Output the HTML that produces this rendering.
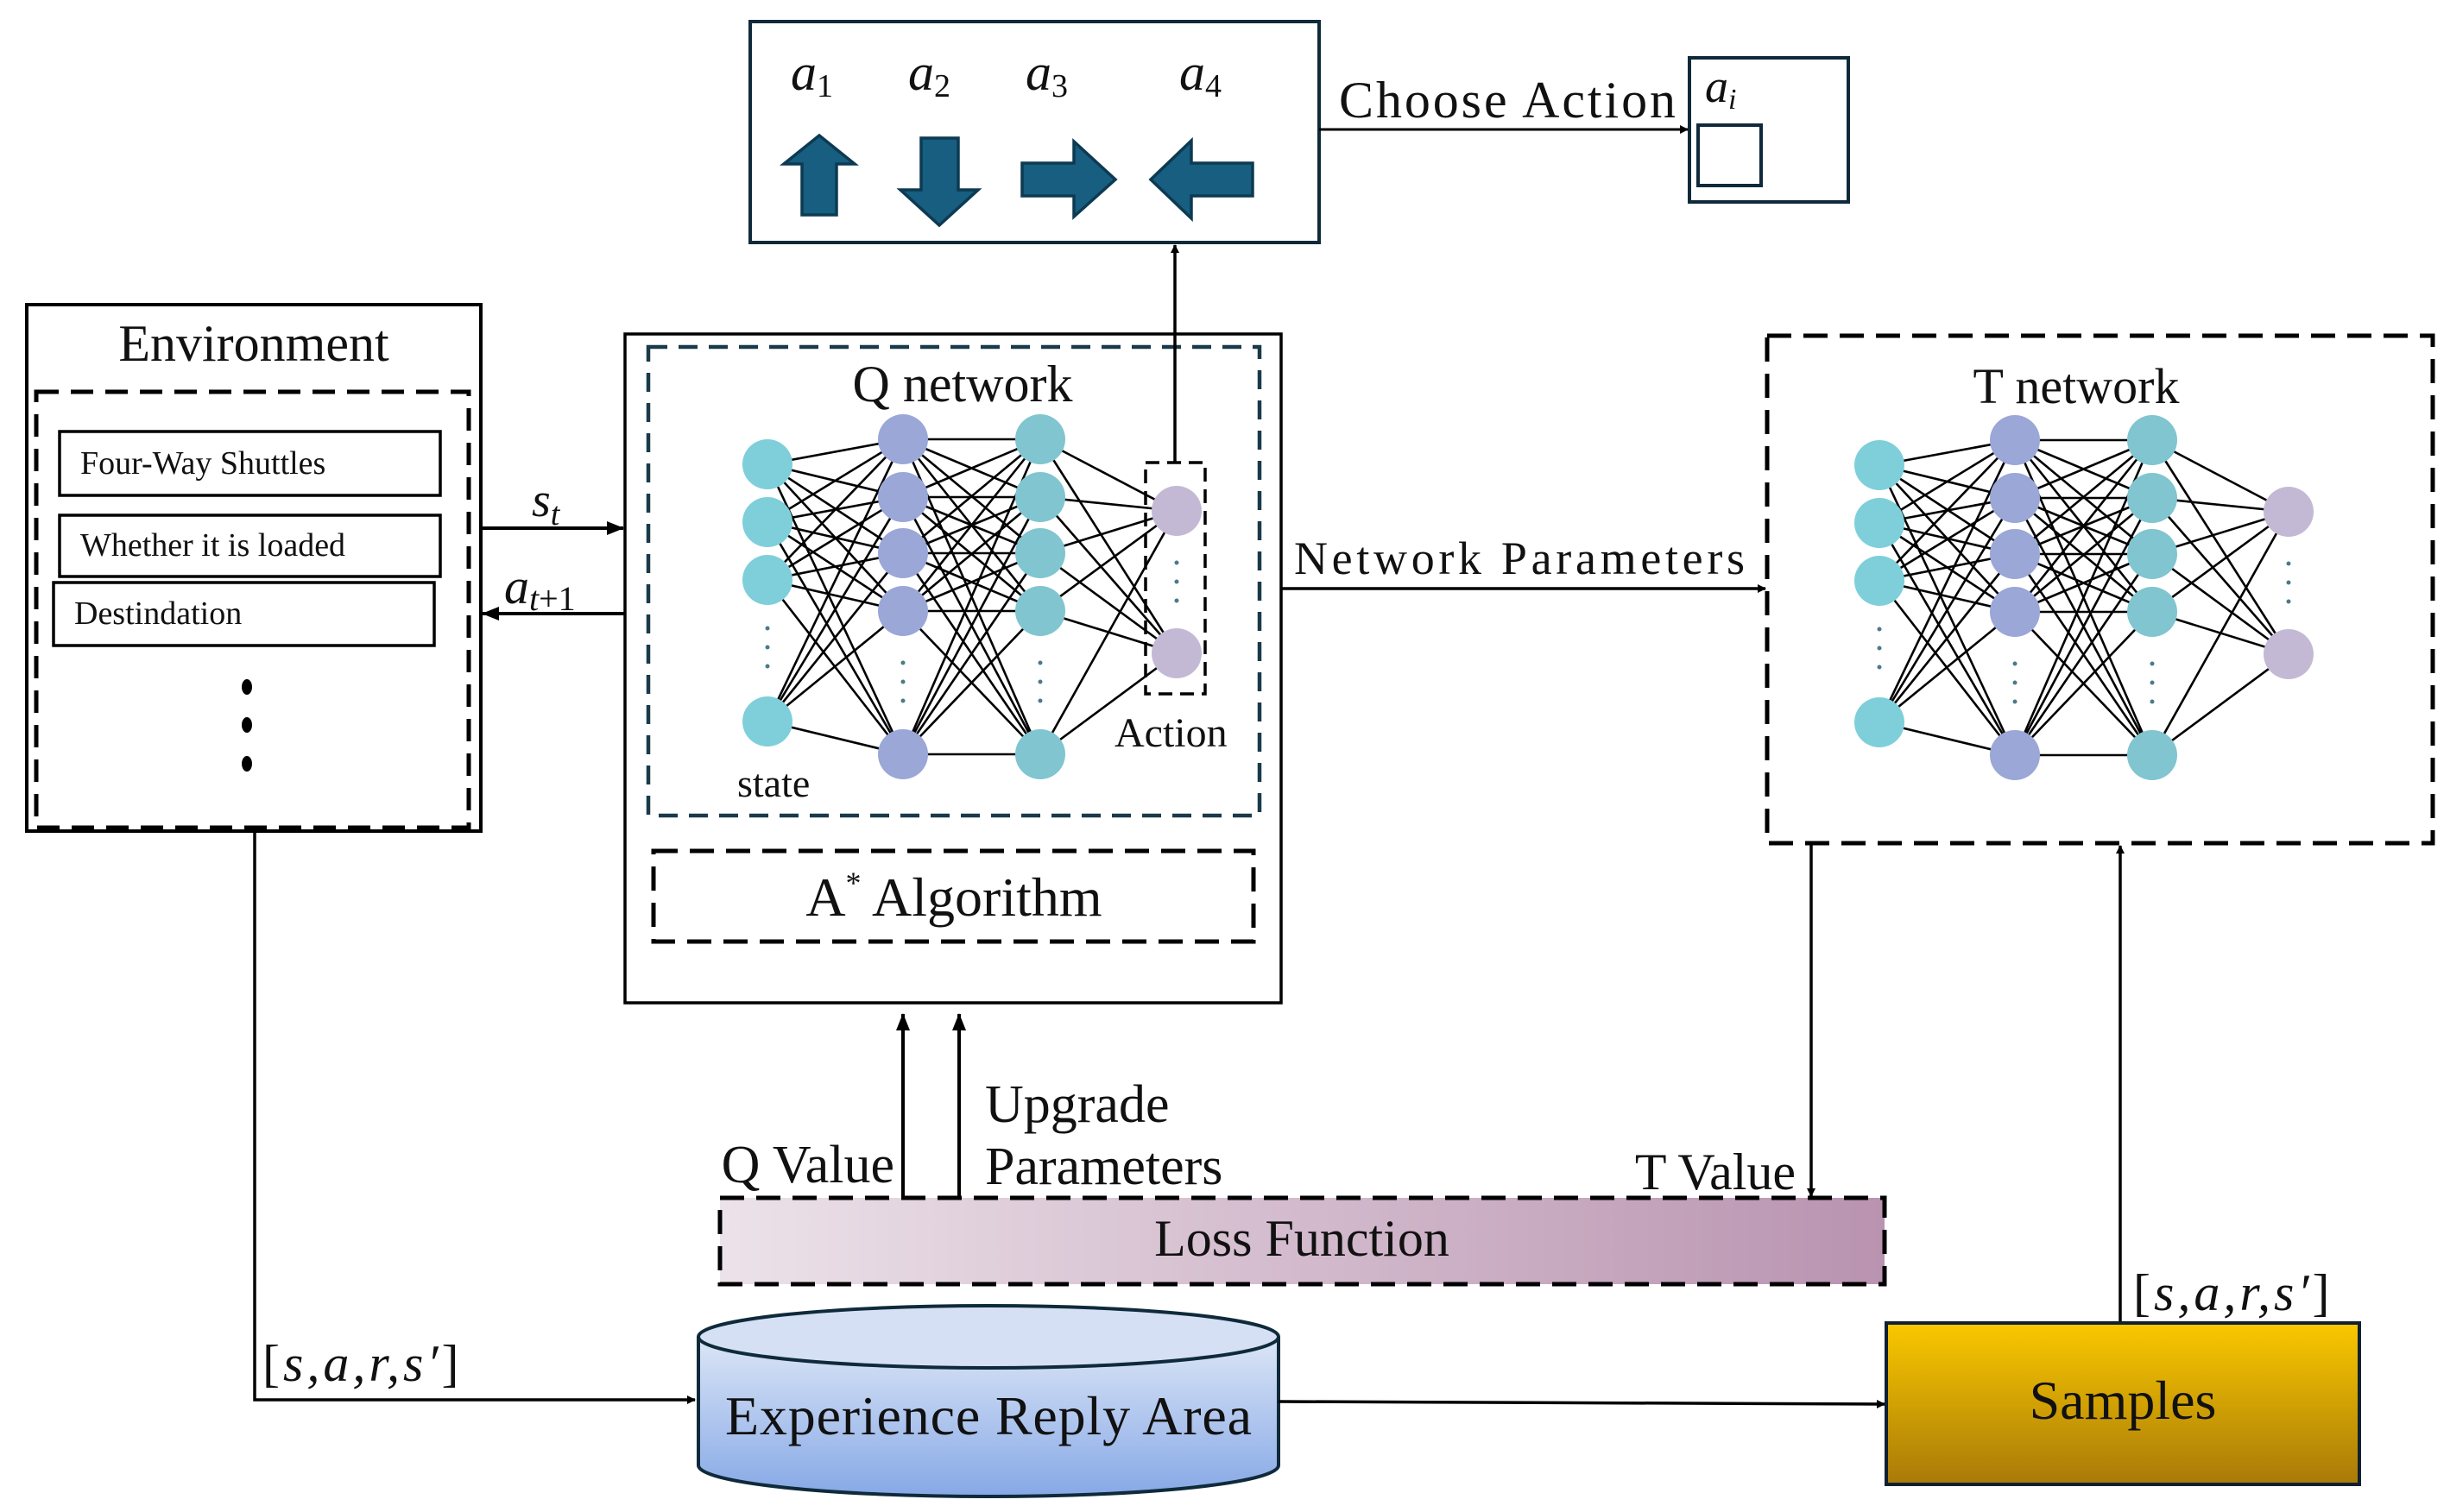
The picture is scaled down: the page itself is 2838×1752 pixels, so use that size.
<!DOCTYPE html>
<html><head><meta charset="utf-8"><style>
html,body{margin:0;padding:0;background:#fff}
svg{display:block}
text{font-family:"Liberation Serif",serif;fill:#111}
.m{font-style:italic}
</style></head><body>
<svg width="2838" height="1752" viewBox="0 0 2838 1752" xmlns="http://www.w3.org/2000/svg">
<defs>
<marker id="ar" markerWidth="10" markerHeight="10" refX="9" refY="5" orient="auto" markerUnits="userSpaceOnUse">
<path d="M0,0 L10,5 L0,10 z" fill="#000"/></marker>
<marker id="ab" markerWidth="20" markerHeight="16" refX="19" refY="8" orient="auto" markerUnits="userSpaceOnUse">
<path d="M0,0 L20,8 L0,16 z" fill="#000"/></marker>
<linearGradient id="loss" x1="0" x2="1" y1="0" y2="0"><stop offset="0" stop-color="#ece2e9"/><stop offset="1" stop-color="#b993b0"/></linearGradient>
<linearGradient id="cyl" x1="0" x2="0" y1="0" y2="1"><stop offset="0" stop-color="#dce6f6"/><stop offset="1" stop-color="#86a8e6"/></linearGradient>
<linearGradient id="smp" x1="0" x2="0" y1="0" y2="1"><stop offset="0" stop-color="#fac800"/><stop offset="1" stop-color="#a87a08"/></linearGradient>
<g id="net">
<path fill="none" stroke="#000" stroke-width="2.6" d="
M889 538L1046 509M889 538L1046 576M889 538L1046 641M889 538L1046 708M889 538L1046 874
M889 605L1046 509M889 605L1046 576M889 605L1046 641M889 605L1046 708M889 605L1046 874
M889 672L1046 509M889 672L1046 576M889 672L1046 641M889 672L1046 708M889 672L1046 874
M889 836L1046 509M889 836L1046 576M889 836L1046 641M889 836L1046 708M889 836L1046 874
M1046 509L1205 509M1046 509L1205 576M1046 509L1205 641M1046 509L1205 708M1046 509L1205 874
M1046 576L1205 509M1046 576L1205 576M1046 576L1205 641M1046 576L1205 708M1046 576L1205 874
M1046 641L1205 509M1046 641L1205 576M1046 641L1205 641M1046 641L1205 708M1046 641L1205 874
M1046 708L1205 509M1046 708L1205 576M1046 708L1205 641M1046 708L1205 708M1046 708L1205 874
M1046 874L1205 509M1046 874L1205 576M1046 874L1205 641M1046 874L1205 708M1046 874L1205 874
M1205 509L1363 592M1205 509L1363 757M1205 576L1363 592M1205 576L1363 757M1205 641L1363 592M1205 641L1363 757
M1205 708L1363 592M1205 708L1363 757M1205 874L1363 592M1205 874L1363 757"/>
<g fill="#7ecfda"><circle cx="889" cy="538" r="29"/><circle cx="889" cy="605" r="29"/><circle cx="889" cy="672" r="29"/><circle cx="889" cy="836" r="29"/></g>
<g fill="#9aa7d7"><circle cx="1046" cy="509" r="29"/><circle cx="1046" cy="576" r="29"/><circle cx="1046" cy="641" r="29"/><circle cx="1046" cy="708" r="29"/><circle cx="1046" cy="874" r="29"/></g>
<g fill="#80c5d0"><circle cx="1205" cy="509" r="29"/><circle cx="1205" cy="576" r="29"/><circle cx="1205" cy="641" r="29"/><circle cx="1205" cy="708" r="29"/><circle cx="1205" cy="874" r="29"/></g>
<g fill="#c4b9d5"><circle cx="1363" cy="592" r="29"/><circle cx="1363" cy="757" r="29"/></g>
<g fill="#4a7a8a"><circle cx="889" cy="728" r="2.5"/><circle cx="889" cy="750" r="2.5"/><circle cx="889" cy="772" r="2.5"/>
<circle cx="1046" cy="768" r="2.5"/><circle cx="1046" cy="790" r="2.5"/><circle cx="1046" cy="812" r="2.5"/>
<circle cx="1205" cy="768" r="2.5"/><circle cx="1205" cy="790" r="2.5"/><circle cx="1205" cy="812" r="2.5"/>
<circle cx="1363" cy="652" r="2.5"/><circle cx="1363" cy="674" r="2.5"/><circle cx="1363" cy="696" r="2.5"/></g>
</g>
</defs>

<!-- Action box -->
<rect x="869" y="25" width="659" height="256" fill="#fff" stroke="#0f2a3a" stroke-width="4"/>
<text x="916" y="104" font-size="60" class="m">a<tspan font-size="38" dy="8" font-style="normal">1</tspan></text>
<text x="1052" y="104" font-size="60" class="m">a<tspan font-size="38" dy="8" font-style="normal">2</tspan></text>
<text x="1188" y="104" font-size="60" class="m">a<tspan font-size="38" dy="8" font-style="normal">3</tspan></text>
<text x="1366" y="104" font-size="60" class="m">a<tspan font-size="38" dy="8" font-style="normal">4</tspan></text>
<g fill="#175e80" stroke="#0d3a52" stroke-width="3.5">
<path d="M908 190 L949 157 L990 190 L969 190 L969 249 L929 249 L929 190 Z"/>
<path d="M1067 160 L1110 160 L1110 220 L1133 220 L1088 261 L1043 220 L1067 220 Z"/>
<path d="M1184 189 L1244 189 L1244 164 L1292 208 L1244 251 L1244 227 L1184 227 Z"/>
<path d="M1451 189 L1380 189 L1380 163 L1333 208 L1380 253 L1380 227 L1451 227 Z"/>
</g>
<!-- ai box -->
<rect x="1957" y="67" width="184" height="167" fill="#fff" stroke="#0f2a3a" stroke-width="4"/>
<rect x="1967" y="145" width="73" height="70" fill="#fff" stroke="#0f2a3a" stroke-width="4"/>
<text x="1975" y="118" font-size="54" class="m">a<tspan font-size="34" dy="8">i</tspan></text>
<line x1="1528" y1="150" x2="1955" y2="150" stroke="#000" stroke-width="3" marker-end="url(#ar)"/>
<text x="1551" y="136" font-size="60" textLength="390">Choose Action</text>

<!-- Environment -->
<rect x="31" y="353" width="526" height="610" fill="#fff" stroke="#000" stroke-width="4"/>
<rect x="42" y="454" width="501" height="505" fill="none" stroke="#000" stroke-width="5" stroke-dasharray="26 14"/>
<text x="294" y="418" font-size="60" text-anchor="middle">Environment</text>
<rect x="69" y="500" width="441" height="74" fill="#fff" stroke="#000" stroke-width="3.5"/>
<rect x="69" y="597" width="441" height="71" fill="#fff" stroke="#000" stroke-width="3.5"/>
<rect x="62" y="675" width="441" height="73" fill="#fff" stroke="#000" stroke-width="3.5"/>
<text x="93" y="549" font-size="38">Four-Way Shuttles</text>
<text x="93" y="644" font-size="38">Whether it is loaded</text>
<text x="86" y="723" font-size="38">Destindation</text>
<g fill="#000"><ellipse cx="286" cy="796" rx="6" ry="9"/><ellipse cx="286" cy="840" rx="6" ry="9"/><ellipse cx="286" cy="885" rx="6" ry="9"/></g>

<!-- st / at+1 -->
<line x1="557" y1="612" x2="722" y2="612" stroke="#000" stroke-width="4" marker-end="url(#ab)"/>
<line x1="724" y1="711" x2="559" y2="711" stroke="#000" stroke-width="4" marker-end="url(#ab)"/>
<text x="616" y="598" font-size="56" class="m">s<tspan font-size="38" dy="10">t</tspan></text>
<text x="584" y="699" font-size="58" class="m">a<tspan font-size="40" dy="8">t<tspan font-style="normal">+1</tspan></tspan></text>

<!-- Q network -->
<rect x="724" y="387" width="760" height="775" fill="#fff" stroke="#000" stroke-width="3.5"/>
<rect x="751" y="402" width="708" height="543" fill="none" stroke="#1a3a4a" stroke-width="4.5" stroke-dasharray="22 13"/>
<rect x="757" y="986" width="695" height="105" fill="none" stroke="#000" stroke-width="5" stroke-dasharray="28 14"/>
<text x="1115" y="465" font-size="60" text-anchor="middle">Q network</text>
<use href="#net"/>
<rect x="1327" y="536" width="69" height="268" fill="none" stroke="#000" stroke-width="3.5" stroke-dasharray="16 9"/>
<line x1="1361" y1="536" x2="1361" y2="284" stroke="#000" stroke-width="3.5" marker-end="url(#ar)"/>
<text x="854" y="923" font-size="46">state</text>
<text x="1291" y="865" font-size="48">Action</text>
<text x="1105" y="1061" font-size="64" text-anchor="middle">A<tspan font-size="36" dy="-26">*</tspan><tspan dy="26"> Algorithm</tspan></text>

<!-- Network parameters -->
<line x1="1484" y1="682" x2="2045" y2="682" stroke="#000" stroke-width="3.5" marker-end="url(#ar)"/>
<text x="1499" y="665" font-size="54" textLength="522">Network  Parameters</text>

<!-- T network -->
<rect x="2047" y="389" width="771" height="588" fill="none" stroke="#000" stroke-width="5" stroke-dasharray="28 14"/>
<text x="2405" y="467" font-size="58" text-anchor="middle">T network</text>
<use href="#net" transform="translate(1288,1)"/>

<!-- T value -->
<line x1="2098" y1="977" x2="2098" y2="1386" stroke="#000" stroke-width="3.5" marker-end="url(#ar)"/>
<text x="2080" y="1378" font-size="60" text-anchor="end">T Value</text>
<line x1="2456" y1="1533" x2="2456" y2="980" stroke="#000" stroke-width="3.5" marker-end="url(#ar)"/>

<!-- Q value / upgrade -->
<line x1="1046" y1="1388" x2="1046" y2="1175" stroke="#000" stroke-width="4" marker-end="url(#ab)"/>
<line x1="1111" y1="1388" x2="1111" y2="1175" stroke="#000" stroke-width="4" marker-end="url(#ab)"/>
<text x="1036" y="1370" font-size="62" text-anchor="end">Q Value</text>
<text x="1141" y="1300" font-size="62">Upgrade</text>
<text x="1141" y="1372" font-size="62">Parameters</text>

<!-- Loss function -->
<rect x="834" y="1388" width="1349" height="100" fill="url(#loss)" stroke="#000" stroke-width="5" stroke-dasharray="28 14"/>
<text x="1508" y="1455" font-size="60" text-anchor="middle">Loss Function</text>

<!-- left flow -->
<polyline points="295,963 295,1622 805,1622" fill="none" stroke="#000" stroke-width="3.5" marker-end="url(#ar)"/>
<text x="304" y="1600" font-size="60" class="m" letter-spacing="4"><tspan font-style="normal">[</tspan>s,a,r,s′<tspan font-style="normal">]</tspan></text>

<!-- cylinder -->
<path d="M809 1549 L809 1698 A336 36 0 0 0 1481 1698 L1481 1549" fill="url(#cyl)" stroke="#0f2a3a" stroke-width="4"/>
<ellipse cx="1145" cy="1549" rx="336" ry="36" fill="#d5e0f4" stroke="#0f2a3a" stroke-width="4"/>
<text x="1145" y="1662" font-size="64" text-anchor="middle" textLength="610">Experience Reply Area</text>
<line x1="1481" y1="1624" x2="2183" y2="1627" stroke="#000" stroke-width="3.5" marker-end="url(#ar)"/>

<!-- samples -->
<rect x="2185" y="1533" width="548" height="187" fill="url(#smp)" stroke="#102030" stroke-width="4"/>
<text x="2459" y="1644" font-size="64" text-anchor="middle">Samples</text>
<text x="2471" y="1518" font-size="60" class="m" letter-spacing="4"><tspan font-style="normal">[</tspan>s,a,r,s′<tspan font-style="normal">]</tspan></text>
</svg>
</body></html>
